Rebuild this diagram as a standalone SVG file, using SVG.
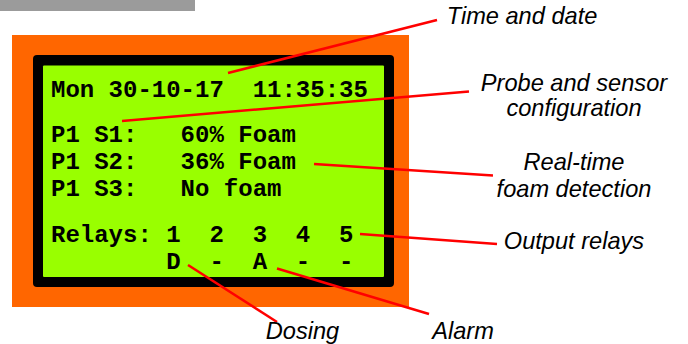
<svg xmlns="http://www.w3.org/2000/svg" width="688" height="344" viewBox="0 0 688 344">
<style>
.lcd{font-family:"Liberation Mono","Courier New",monospace;font-weight:bold;font-size:24px;fill:#000;white-space:pre}
.lbl{font-family:"Liberation Sans",Arial,sans-serif;font-style:italic;font-size:23.6px;fill:#000;text-anchor:middle}
.ln{stroke:#FF0000;stroke-width:2.5;fill:none;stroke-linecap:butt}
</style>
<rect x="0" y="0" width="195" height="11" fill="#9B9B9B"/>
<g id="display">
<rect x="12" y="35" width="397" height="272" fill="#FF6600"/>
<rect x="33" y="55" width="361" height="232" rx="4" fill="#000"/>
<rect x="43" y="65.5" width="341" height="211.5" rx="1" fill="#99FF00"/>
<text class="lcd" x="51" y="97" xml:space="preserve">Mon 30-10-17  11:35:35</text>
<text class="lcd" x="51" y="141.5" xml:space="preserve">P1 S1:   60% Foam</text>
<text class="lcd" x="51" y="168.5" xml:space="preserve">P1 S2:   36% Foam</text>
<text class="lcd" x="51" y="196" xml:space="preserve">P1 S3:   No foam</text>
<text class="lcd" x="51" y="241.5" xml:space="preserve">Relays: 1  2  3  4  5</text>
<text class="lcd" x="51" y="269" xml:space="preserve">        D  -  A  -  -</text>
</g>
<g id="connectors">
<line class="ln" x1="228" y1="73" x2="437" y2="20"/>
<line class="ln" x1="122" y1="121" x2="469" y2="91.5"/>
<line class="ln" x1="314" y1="164" x2="493" y2="175.5"/>
<line class="ln" x1="360" y1="234" x2="497" y2="244"/>
<line class="ln" x1="188" y1="265" x2="277" y2="322"/>
<line class="ln" x1="277" y1="268.5" x2="429" y2="314"/>
</g>
<g id="label-time"><text class="lbl" x="522" y="24">Time and date</text></g>
<g id="label-probe"><text class="lbl" x="574" y="90.5">Probe and sensor</text><text class="lbl" x="574" y="115.5">configuration</text></g>
<g id="label-foam"><text class="lbl" x="574" y="170">Real-time</text><text class="lbl" x="574" y="196.5">foam detection</text></g>
<g id="label-relays"><text class="lbl" x="574" y="249">Output relays</text></g>
<g id="label-dosing"><text class="lbl" x="302.5" y="339">Dosing</text></g>
<g id="label-alarm"><text class="lbl" x="463" y="339">Alarm</text></g>
</svg>
